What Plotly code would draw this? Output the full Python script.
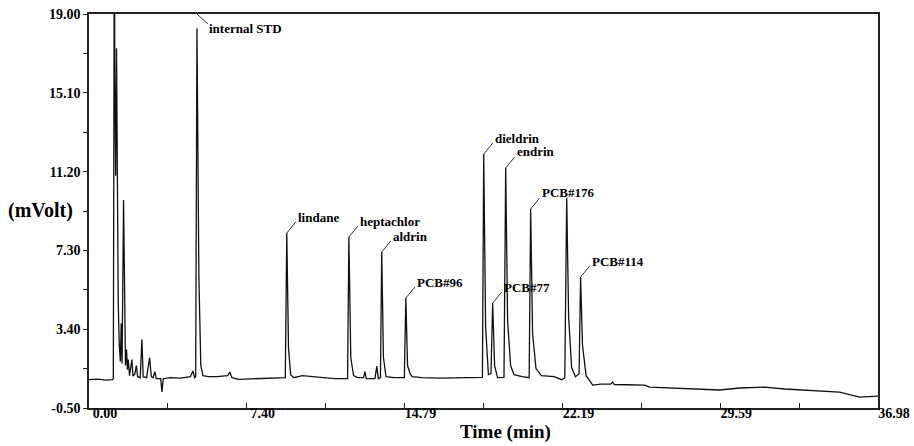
import plotly.graph_objects as go

# ---- data ----
time_min = [0.00, 0.40, 0.80, 1.10, 1.14, 1.16, 1.19, 1.21, 1.25, 1.29, 1.34, 1.37, 1.42, 1.47, 1.51,
            1.55, 1.62, 1.67, 1.71, 1.76, 1.80, 1.84, 1.90, 2.01, 2.06, 2.14, 2.22, 2.28, 2.40, 2.48,
            2.54, 2.70, 2.84, 2.92, 3.00, 3.09, 3.15, 3.36, 3.42, 3.48, 3.80, 4.30, 4.75, 4.87, 4.95,
            5.00, 5.06, 5.15, 5.24, 5.34, 5.60, 6.00, 6.50, 6.60, 6.70, 7.00, 7.60, 8.20, 8.80, 9.20,
            9.27, 9.35, 9.45, 9.60, 10.00, 10.50, 11.00, 11.50, 12.12, 12.18, 12.27, 12.40, 12.60, 12.87,
            12.93, 13.00, 13.40, 13.49, 13.56, 13.66, 13.72, 13.80, 13.92, 14.30, 14.78, 14.85, 14.93,
            15.05, 15.15, 15.60, 16.50, 17.50, 18.00, 18.44, 18.50, 18.59, 18.72, 18.84, 18.92, 19.01,
            19.15, 19.45, 19.53, 19.62, 19.76, 19.92, 20.30, 20.63, 20.70, 20.79, 20.95, 21.20, 21.80,
            22.15, 22.30, 22.35, 22.39, 22.48, 22.62, 22.80, 22.97, 23.04, 23.13, 23.30, 23.45, 23.61,
            24.00, 24.45, 24.54, 24.62, 25.20, 26.04, 26.28, 27.21, 28.62, 29.56, 30.49, 31.66, 32.60,
            33.30, 35.18, 36.11, 36.98]
signal_mv = [0.90, 0.93, 0.88, 0.90, 0.95, 25.0, 25.0, 15.7, 11.0, 17.3, 8.0, 4.7, 2.6, 1.8, 3.7,
             1.7, 9.8, 2.4, 1.6, 2.4, 1.4, 1.9, 1.1, 1.9, 1.1, 1.15, 1.6, 1.05, 1.0, 2.9,
             1.05, 1.0, 2.0, 1.05, 1.0, 1.3, 0.95, 0.95, 0.3, 0.95, 1.0, 0.98, 1.05, 1.33, 1.0,
             1.05, 18.3, 6.0, 1.6, 1.1, 1.05, 1.05, 1.1, 1.28, 1.0, 0.92, 0.95, 0.98, 0.98, 1.0,
             8.16, 2.5, 1.15, 1.0, 1.1, 1.05, 0.98, 0.95, 0.95, 7.96, 2.0, 1.1, 1.0, 1.0,
             1.3, 0.95, 0.95, 1.57, 0.95, 1.0, 7.22, 2.0, 1.05, 1.0, 1.0, 4.94, 1.6,
             1.2, 1.05, 1.0, 0.98, 1.0, 1.02, 1.02, 12.07, 3.5, 1.15, 1.2, 4.69, 1.6,
             1.0, 1.02, 11.38, 3.8, 1.6, 1.15, 1.05, 1.0, 9.35, 3.2, 1.45, 1.1, 1.05,
             0.9, 1.0, 8.3, 9.9, 4.0, 1.5, 1.05, 1.2, 5.98, 2.6, 1.1, 0.85, 0.63,
             0.68, 0.68, 0.78, 0.66, 0.65, 0.63, 0.53, 0.49, 0.44, 0.39, 0.49, 0.53, 0.44,
             0.39, 0.29, 0.04, 0.09]

peak_names = ["internal STD", "lindane", "heptachlor", "aldrin", "PCB#96",
              "dieldrin", "PCB#77", "endrin", "PCB#176", "PCB#114"]
peak_times = [5.06, 9.27, 12.18, 13.72, 14.85, 18.50, 18.92, 19.53, 20.70, 23.04]
peak_heights = [18.3, 8.16, 7.96, 7.22, 4.94, 12.07, 4.69, 11.38, 9.35, 5.98]

y_tick_vals = [-0.5, 3.4, 7.3, 11.2, 15.1, 19.0]
y_tick_text = ["-0.50", "3.40", "7.30", "11.20", "15.10", "19.00"]
x_tick_vals = [0.0, 7.396, 14.792, 22.188, 29.584, 36.98]
x_tick_text = ["0.00", "7.40", "14.79", "22.19", "29.59", "36.98"]

Y_MIN, Y_MAX = -0.5, 19.0
X_MIN, X_MAX = 0.0, 36.98

SERIF = "Liberation Serif"
AXIS_COLOR = "#222222"

fig = go.Figure()
fig.add_trace(go.Scatter(x=time_min, y=signal_mv, mode="lines",
                         line=dict(color="#111111", width=1.3),
                         hoverinfo="skip", showlegend=False))

label_font = dict(family=SERIF, size=13, color="black", weight="bold")
for name, t, v in zip(peak_names, peak_times, peak_heights):
    if name == "internal STD":
        fig.add_shape(type="line", xref="x", yref="y", xsizemode="pixel", ysizemode="pixel",
                      xanchor=t, yanchor=Y_MAX, x0=0, y0=0, x1=11, y1=-10,
                      line=dict(color="#333333", width=1))
        fig.add_annotation(x=t, y=Y_MAX, xref="x", yref="y", text=name, showarrow=False,
                           xanchor="left", yanchor="middle", xshift=10, yshift=-14,
                           font=label_font)
    else:
        fig.add_shape(type="line", xref="x", yref="y", xsizemode="pixel", ysizemode="pixel",
                      xanchor=t, yanchor=v, x0=0, y0=0, x1=9, y1=11,
                      line=dict(color="#333333", width=1))
        fig.add_annotation(x=t, y=v, xref="x", yref="y", text=name, showarrow=False,
                           xanchor="left", yanchor="middle", xshift=9, yshift=16,
                           font=label_font)

fig.add_annotation(x=-0.062, y=0.5025, xref="paper", yref="paper", text="(mVolt)",
                   showarrow=False, xanchor="center", yanchor="middle",
                   font=dict(family=SERIF, size=20, color="black", weight="bold"))
fig.add_annotation(x=0.5285, y=-0.062, xref="paper", yref="paper", text="Time (min)",
                   showarrow=False, xanchor="center", yanchor="middle",
                   font=dict(family=SERIF, size=19, color="black", weight="bold"))

tick_font = dict(family=SERIF, size=14, color="black", weight="bold")
fig.update_xaxes(range=[X_MIN, X_MAX], tickvals=x_tick_vals, ticktext=x_tick_text,
                 ticks="inside", ticklen=5, tickwidth=1.2, tickcolor=AXIS_COLOR,
                 showline=True, linecolor=AXIS_COLOR, linewidth=1.5, mirror=True,
                 showgrid=False, zeroline=False, tickfont=tick_font, automargin=False,
                 ticklabelshift=16, ticklabelstandoff=-9, ticklabeloverflow="allow",
                 minor=dict(ticks="inside", tick0=0, dtick=3.698, ticklen=5,
                            tickcolor=AXIS_COLOR, showgrid=False))
fig.update_yaxes(range=[Y_MIN, Y_MAX], tickvals=y_tick_vals, ticktext=y_tick_text,
                 ticks="outside", ticklen=4, tickwidth=1.2, tickcolor=AXIS_COLOR,
                 showline=True, linecolor=AXIS_COLOR, linewidth=1.5, mirror=True,
                 showgrid=False, zeroline=False, tickfont=tick_font, automargin=False,
                 ticklabeloverflow="allow",
                 minor=dict(ticks="outside", tick0=-0.5, dtick=1.95, ticklen=4,
                            tickcolor=AXIS_COLOR, showgrid=False))

fig.update_layout(width=914, height=446, margin=dict(l=89, r=36, t=14, b=38),
                  paper_bgcolor="white", plot_bgcolor="white", showlegend=False)

# remove the browser's default page margin so the figure fills the window exactly
fig.write_html("out.html", config={"displayModeBar": False},
               post_script="document.body.style.margin='0';document.body.style.overflow='hidden';")
